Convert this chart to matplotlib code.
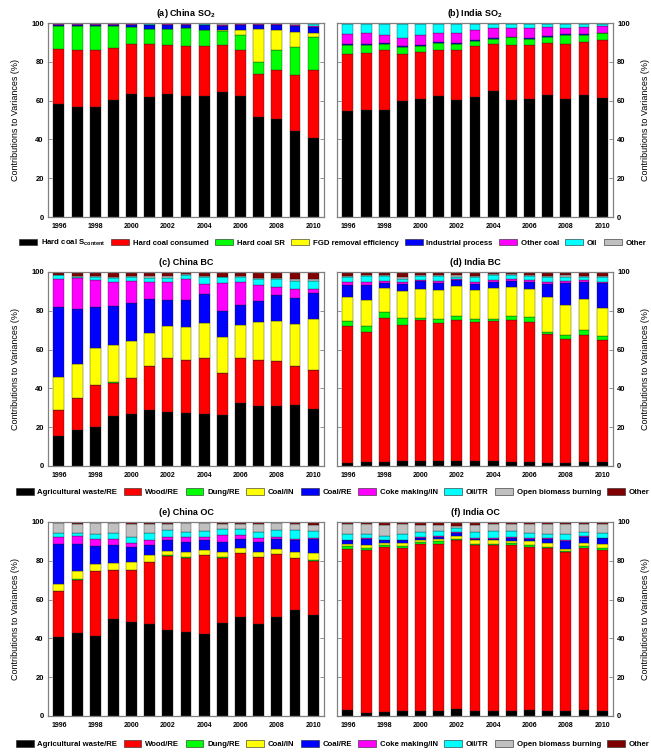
import matplotlib

matplotlib.use("Agg")
import matplotlib.pyplot as plt
from matplotlib.patches import Patch

plt.rcParams["font.family"] = ["Liberation Sans", "DejaVu Sans"]
plt.rcParams["mathtext.fontset"] = "custom"
plt.rcParams["mathtext.rm"] = "Liberation Sans:bold"
plt.rcParams["mathtext.default"] = "regular"

years = list(range(1996, 2011))
year_ticks = [1996, 1998, 2000, 2002, 2004, 2006, 2008, 2010]
y_ticks = [0, 20, 40, 60, 80, 100]

# SO2 sources (panels a, b)
so2_labels = ["Hard coal S$_{\\mathregular{content}}$", "Hard coal consumed",
              "Hard coal SR", "FGD removal efficiency", "Industrial process",
              "Other coal", "Oil", "Other"]
so2_colors = ["#000000", "#ff0000", "#00ff00", "#ffff00", "#0000ff",
              "#ff00ff", "#00ffff", "#c0c0c0"]

# carbonaceous aerosol sources (panels c-f)
carb_labels = ["Agricultural waste/RE", "Wood/RE", "Dung/RE", "Coal/IN",
               "Coal/RE", "Coke making/IN", "Oil/TR", "Open biomass burning",
               "Other"]
carb_colors = ["#000000", "#ff0000", "#00ff00", "#ffff00", "#0000ff",
               "#ff00ff", "#00ffff", "#c0c0c0", "#800000"]

# (a) China SO2
cn_so2_s_content = [58.0, 56.5, 56.7, 60.4, 63.4, 62.0, 63.3, 62.5, 62.5, 64.2, 62.5, 51.5, 50.3, 44.5, 40.8]
cn_so2_consumed = [28.8, 29.8, 29.6, 26.9, 26.0, 27.4, 25.2, 25.5, 25.5, 24.3, 23.8, 22.1, 25.7, 28.6, 34.9]
cn_so2_sr = [11.5, 12.3, 12.0, 11.0, 8.4, 7.7, 8.6, 9.4, 8.4, 7.6, 7.7, 6.5, 10.3, 14.7, 16.9]
cn_so2_fgd = [0.0, 0.0, 0.0, 0.0, 0.0, 0.0, 0.0, 0.0, 0.0, 0.4, 2.4, 16.8, 10.2, 7.7, 2.5]
cn_so2_industrial = [0.7, 0.5, 0.6, 0.7, 1.2, 1.8, 2.0, 1.7, 2.5, 2.1, 2.6, 2.0, 2.5, 2.8, 2.8]
cn_so2_other_coal = [0.3, 0.3, 0.4, 0.3, 0.3, 0.3, 0.3, 0.3, 0.3, 0.4, 0.4, 0.4, 0.4, 0.6, 0.7]
cn_so2_oil = [0.1, 0.1, 0.1, 0.1, 0.1, 0.1, 0.1, 0.1, 0.1, 0.1, 0.1, 0.1, 0.1, 0.2, 0.8]
cn_so2_other = [0.3, 0.4, 0.4, 0.3, 0.3, 0.3, 0.3, 0.3, 0.4, 0.4, 0.3, 0.4, 0.3, 0.6, 0.3]

# (b) India SO2
in_so2_s_content = [54.6, 55.1, 55.3, 59.8, 60.8, 62.5, 60.3, 62.0, 65.1, 60.3, 61.0, 63.0, 61.0, 62.8, 61.5]
in_so2_consumed = [29.6, 29.3, 31.0, 24.4, 24.5, 23.8, 26.0, 26.0, 24.3, 28.4, 27.5, 26.7, 28.4, 27.6, 29.9]
in_so2_sr = [4.3, 4.5, 2.9, 3.5, 2.9, 3.4, 3.1, 2.9, 2.4, 3.9, 3.5, 2.9, 4.3, 3.6, 3.3]
in_so2_fgd = [0.0, 0.0, 0.0, 0.0, 0.0, 0.0, 0.0, 0.0, 0.0, 0.0, 0.0, 0.0, 0.0, 0.0, 0.0]
in_so2_industrial = [0.5, 0.5, 0.4, 0.5, 0.4, 0.5, 0.4, 0.5, 0.3, 0.4, 0.4, 0.5, 0.5, 0.5, 0.4]
in_so2_other_coal = [5.3, 5.3, 4.2, 4.3, 5.2, 4.5, 4.9, 4.8, 5.2, 4.3, 5.2, 4.8, 3.4, 3.4, 3.4]
in_so2_oil = [5.0, 4.6, 5.5, 7.0, 5.7, 4.8, 4.6, 3.1, 2.0, 2.0, 1.7, 1.4, 1.7, 1.4, 1.0]
in_so2_other = [0.4, 0.4, 0.4, 0.3, 0.3, 0.3, 0.4, 0.4, 0.4, 0.4, 0.4, 0.4, 0.4, 0.4, 0.3]

# (c) China BC
cn_bc_agri = [15.6, 18.5, 20.2, 26.0, 26.9, 28.9, 27.6, 27.3, 26.8, 26.2, 32.5, 31.1, 30.8, 31.6, 29.6]
cn_bc_wood = [13.2, 16.3, 21.6, 17.0, 18.6, 22.8, 28.2, 27.4, 28.9, 21.5, 23.2, 23.6, 23.4, 20.0, 19.8]
cn_bc_dung = [0.1, 0.1, 0.1, 0.1, 0.1, 0.1, 0.1, 0.1, 0.1, 0.1, 0.1, 0.1, 0.1, 0.1, 0.1]
cn_bc_coal_in = [16.8, 17.5, 18.7, 19.1, 18.6, 16.9, 16.2, 16.8, 17.9, 18.7, 17.0, 19.2, 20.4, 21.3, 26.2]
cn_bc_coal_re = [36.5, 28.6, 21.4, 20.5, 19.7, 17.3, 13.5, 14.0, 15.0, 13.3, 10.1, 11.1, 13.3, 13.8, 13.4]
cn_bc_coke = [14.4, 15.7, 13.9, 12.2, 11.5, 8.7, 9.4, 10.8, 5.1, 14.7, 11.8, 8.2, 4.1, 4.3, 2.0]
cn_bc_oil = [1.7, 0.7, 1.7, 2.0, 2.0, 2.2, 2.1, 2.2, 3.5, 2.8, 2.6, 3.1, 4.1, 4.5, 4.5]
cn_bc_open = [0.3, 0.7, 0.5, 0.7, 0.7, 0.9, 0.7, 0.5, 0.6, 0.3, 0.6, 0.7, 0.7, 0.6, 0.6]
cn_bc_other = [1.1, 1.6, 1.6, 2.2, 1.6, 1.9, 1.9, 1.0, 1.7, 2.2, 1.8, 2.7, 2.9, 3.6, 3.6]

# (d) India BC
in_bc_agri = [1.7, 2.0, 2.2, 2.5, 2.5, 2.5, 2.7, 2.5, 2.5, 2.0, 2.0, 1.7, 1.7, 2.2, 1.9]
in_bc_wood = [70.6, 67.3, 74.3, 70.4, 73.0, 71.3, 72.6, 71.8, 72.5, 73.3, 72.1, 66.1, 63.9, 65.4, 63.0]
in_bc_dung = [2.7, 2.8, 3.0, 3.3, 1.0, 2.2, 2.1, 1.7, 1.0, 2.1, 2.8, 1.5, 2.0, 2.3, 1.9]
in_bc_coal_in = [12.2, 13.5, 12.3, 14.2, 14.9, 14.9, 15.4, 14.6, 15.6, 15.1, 14.2, 17.9, 15.3, 16.2, 14.9]
in_bc_coal_re = [6.1, 7.7, 2.5, 3.4, 3.8, 3.4, 2.9, 3.2, 3.1, 3.0, 3.9, 6.6, 11.3, 8.8, 12.5]
in_bc_coke = [1.4, 1.6, 1.2, 1.1, 0.7, 1.2, 0.5, 1.1, 1.2, 0.7, 0.9, 1.1, 1.0, 0.8, 0.7]
in_bc_oil = [2.6, 2.9, 2.5, 1.7, 1.9, 2.3, 1.4, 2.5, 2.4, 2.1, 1.9, 2.7, 2.4, 1.7, 2.7]
in_bc_open = [0.5, 0.5, 0.5, 1.0, 0.5, 0.5, 0.6, 0.5, 0.5, 0.5, 0.5, 0.5, 0.6, 0.6, 0.5]
in_bc_other = [1.9, 1.4, 1.2, 2.1, 1.4, 1.4, 1.5, 1.8, 0.9, 0.9, 1.4, 1.6, 1.5, 1.7, 1.6]

# (e) China OC
cn_oc_agri = [40.7, 42.6, 41.2, 49.8, 48.3, 47.3, 44.1, 43.1, 42.2, 48.0, 50.8, 47.3, 50.9, 54.5, 52.3]
cn_oc_wood = [23.6, 27.7, 33.4, 25.3, 26.8, 32.1, 38.6, 38.5, 40.6, 33.6, 33.2, 34.5, 32.5, 27.0, 27.8]
cn_oc_dung = [0.2, 0.2, 0.2, 0.2, 0.2, 0.2, 0.2, 0.2, 0.2, 0.2, 0.2, 0.2, 0.2, 0.2, 0.2]
cn_oc_coal_in = [3.5, 4.4, 3.7, 3.7, 3.9, 3.6, 2.4, 2.6, 2.8, 2.9, 2.4, 2.7, 2.5, 3.0, 3.7]
cn_oc_coal_re = [20.5, 13.6, 9.0, 9.1, 7.7, 5.1, 5.3, 5.1, 4.8, 4.8, 4.5, 4.8, 5.2, 6.2, 7.3]
cn_oc_coke = [3.6, 4.3, 3.6, 3.0, 2.4, 2.4, 1.9, 2.6, 1.5, 4.0, 2.4, 2.1, 1.0, 0.4, 0.3]
cn_oc_oil = [2.4, 1.7, 2.7, 3.1, 3.1, 3.5, 3.4, 2.8, 3.4, 2.7, 2.7, 3.4, 3.6, 4.8, 3.8]
cn_oc_open = [4.8, 4.6, 5.5, 5.1, 6.4, 4.9, 3.1, 4.4, 3.8, 2.8, 2.8, 4.0, 3.4, 2.7, 3.2]
cn_oc_other = [0.5, 0.6, 0.5, 0.5, 1.0, 0.6, 0.7, 0.6, 0.6, 0.7, 0.7, 0.9, 0.6, 1.2, 1.1]

# (f) India OC
in_oc_agri = [3.1, 1.7, 2.1, 2.7, 2.7, 2.7, 3.4, 2.4, 2.4, 2.4, 3.3, 2.7, 2.4, 3.3, 2.4]
in_oc_wood = [83.2, 84.1, 84.9, 83.9, 85.8, 86.0, 87.2, 85.6, 85.6, 85.9, 83.7, 84.1, 82.0, 83.1, 83.4]
in_oc_dung = [1.2, 1.0, 1.2, 0.9, 1.2, 1.4, 0.8, 0.7, 0.5, 0.7, 1.3, 0.5, 0.5, 1.1, 1.0]
in_oc_coal_in = [1.4, 1.5, 1.0, 1.5, 1.2, 1.0, 1.4, 1.9, 2.2, 1.2, 2.1, 2.1, 1.4, 1.9, 2.1]
in_oc_coal_re = [1.7, 2.9, 1.4, 1.6, 1.0, 1.2, 1.5, 0.6, 0.7, 1.6, 1.0, 1.8, 3.9, 2.9, 2.7]
in_oc_coke = [0.3, 0.3, 0.3, 0.3, 0.3, 0.3, 0.3, 0.3, 0.3, 0.3, 0.3, 0.3, 0.3, 0.3, 0.4]
in_oc_oil = [2.8, 2.5, 2.1, 2.8, 2.8, 2.8, 2.5, 3.5, 3.5, 3.4, 2.5, 2.2, 3.5, 2.4, 2.3]
in_oc_open = [5.4, 5.0, 5.6, 5.3, 3.6, 3.1, 1.0, 3.5, 3.8, 3.6, 4.8, 5.3, 5.0, 3.8, 4.7]
in_oc_other = [0.7, 0.8, 1.2, 0.8, 1.2, 1.3, 1.7, 1.3, 0.8, 0.7, 0.8, 0.8, 0.8, 1.0, 0.8]

panels = [
    ("(a) China SO$_{\\mathregular{2}}$", so2_colors,
     [cn_so2_s_content, cn_so2_consumed, cn_so2_sr, cn_so2_fgd,
      cn_so2_industrial, cn_so2_other_coal, cn_so2_oil, cn_so2_other]),
    ("(b) India SO$_{\\mathregular{2}}$", so2_colors,
     [in_so2_s_content, in_so2_consumed, in_so2_sr, in_so2_fgd,
      in_so2_industrial, in_so2_other_coal, in_so2_oil, in_so2_other]),
    ("(c) China BC", carb_colors,
     [cn_bc_agri, cn_bc_wood, cn_bc_dung, cn_bc_coal_in, cn_bc_coal_re,
      cn_bc_coke, cn_bc_oil, cn_bc_open, cn_bc_other]),
    ("(d) India BC", carb_colors,
     [in_bc_agri, in_bc_wood, in_bc_dung, in_bc_coal_in, in_bc_coal_re,
      in_bc_coke, in_bc_oil, in_bc_open, in_bc_other]),
    ("(e) China OC", carb_colors,
     [cn_oc_agri, cn_oc_wood, cn_oc_dung, cn_oc_coal_in, cn_oc_coal_re,
      cn_oc_coke, cn_oc_oil, cn_oc_open, cn_oc_other]),
    ("(f) India OC", carb_colors,
     [in_oc_agri, in_oc_wood, in_oc_dung, in_oc_coal_in, in_oc_coal_re,
      in_oc_coke, in_oc_oil, in_oc_open, in_oc_other]),
]

W, H = 651, 754
fig = plt.figure(figsize=(W / 100, H / 100), dpi=100)

col_left = [48, 337]
col_width = 276
row_top = [23, 272, 522]
row_height = 194
SPINE = "#808080"

for i, (title, colors, series) in enumerate(panels):
    row, col = divmod(i, 2)
    ax = fig.add_axes([col_left[col] / W, 1 - (row_top[row] + row_height) / H,
                       col_width / W, row_height / H])
    bottom = [0.0] * len(years)
    for vals, c in zip(series, colors):
        ax.bar(years, vals, width=0.6, bottom=bottom, color=c,
               edgecolor="#202020", linewidth=0.25)
        bottom = [b + v for b, v in zip(bottom, vals)]

    ax.set_xlim(1995.4, 2010.6)
    ax.set_ylim(0, 100)
    ax.set_xticks(year_ticks)
    ax.set_xticklabels([str(y) for y in year_ticks], fontsize=5, fontweight="bold")
    ax.set_yticks(y_ticks)
    ax.set_yticklabels([str(y) for y in y_ticks], fontsize=5.5, fontweight="bold")
    ax.tick_params(axis="x", length=0, pad=4)
    ax.tick_params(axis="y", direction="in", length=3, width=0.6, color=SPINE,
                   left=True, right=True, pad=3)
    if col == 1:
        ax.yaxis.tick_right()
        ax.tick_params(axis="y", left=True)
        ax.yaxis.set_label_position("right")
    else:
        ax.tick_params(axis="y", right=True)
    ax.set_ylabel("Contributions to Variances (%)", fontsize=6.5, labelpad=8)
    for s in ax.spines.values():
        s.set_color(SPINE)
        s.set_linewidth(0.9)
    ax.set_title(title, fontsize=6.5, fontweight="bold", pad=5)

legend_rows = [(so2_labels, so2_colors, 243), (carb_labels, carb_colors, 492),
               (carb_labels, carb_colors, 744)]
for labels, colors, ypix in legend_rows:
    handles = [Patch(facecolor=c, edgecolor="#202020", linewidth=0.4)
               for c in colors]
    leg = fig.legend(handles, labels, loc="center", ncol=len(labels),
                     bbox_to_anchor=(0.511, 1 - ypix / H), frameon=False,
                     fontsize=5.6, handlelength=2.3, handleheight=0.9,
                     handletextpad=0.5, columnspacing=0.8, borderaxespad=0,
                     borderpad=0)
    for t in leg.get_texts():
        t.set_fontweight("bold")

fig.savefig("out.png", dpi=100)
